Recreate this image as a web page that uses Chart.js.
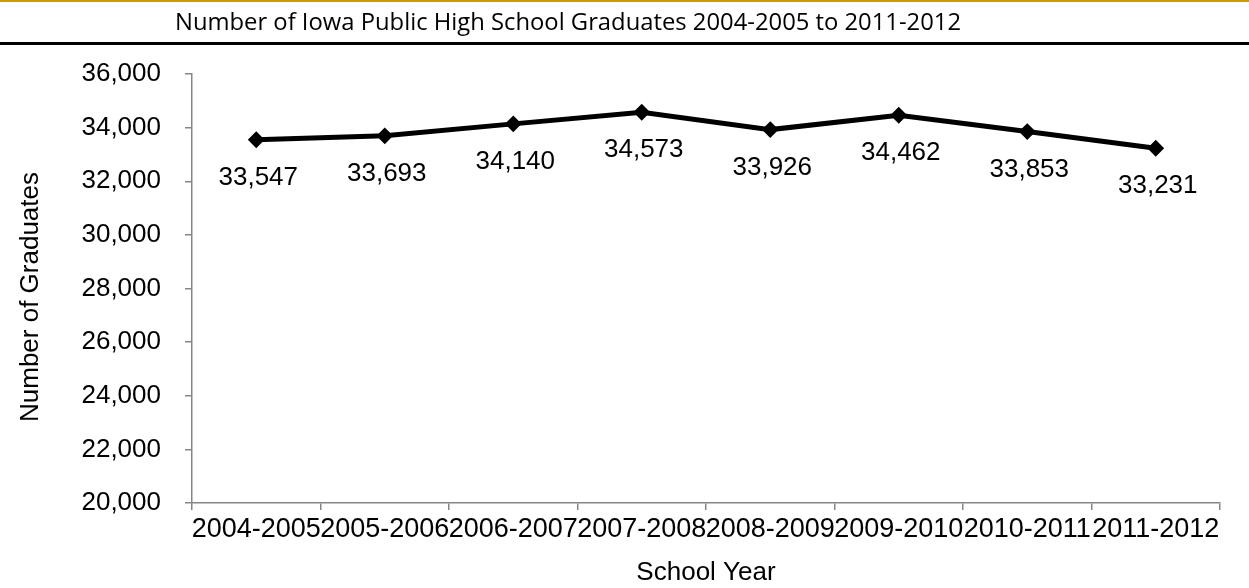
<!DOCTYPE html>
<html>
<head>
<meta charset="utf-8">
<script src="https://cdn.jsdelivr.net/npm/chart.js@4.4.1/dist/chart.umd.min.js"></script>
<style>
  html, body { margin: 0; padding: 0; background: #fff; }
  #wrap { position: relative; width: 1249px; height: 588px; overflow: hidden; }
  #gold { position: absolute; left: 0; top: 0; width: 1249px; height: 2px; background: #CC9A06; }
  #rule { position: absolute; left: 0; top: 42px; width: 1249px; height: 3px; background: #000; }
  #title { position: absolute; left: 0; top: 4.6px; width: 1136px; text-align: center;
           font-family: "Open Sans", Lato, sans-serif; font-size: 23.8px; line-height: 32.4px; color: #000; white-space: nowrap; }
  canvas { position: absolute; left: 0; top: 0; }
</style>
</head>
<body>
<div id="wrap">
  <canvas id="c" width="1249" height="588"></canvas>
  <div id="gold"></div>
  <div id="title">Number of Iowa Public High School Graduates 2004-2005 to 2011-2012</div>
  <div id="rule"></div>
</div>
<script>
const schoolYears = ["2004-2005", "2005-2006", "2006-2007", "2007-2008", "2008-2009", "2009-2010", "2010-2011", "2011-2012"];
const graduates = [33547, 33693, 34140, 34573, 33926, 34462, 33853, 33231];
const yMin = 20000;
const yMax = 36000;
const yStep = 2000;
const yAxisTitle = "Number of Graduates";
const xAxisTitle = "School Year";

const FONT = "'Liberation Sans', Arial, sans-serif";
const AXIS_GRAY = "#868686";

const valueLabels = {
  id: "valueLabels",
  afterDatasetsDraw(chart) {
    const ctx = chart.ctx;
    const meta = chart.getDatasetMeta(0);
    ctx.save();
    ctx.font = "26px " + FONT;
    ctx.fillStyle = "#000";
    ctx.textAlign = "center";
    ctx.textBaseline = "middle";
    meta.data.forEach((pt, i) => {
      ctx.fillText(graduates[i].toLocaleString("en-US"), pt.x + 2, pt.y + 38);
    });
    ctx.restore();
  }
};

const yTitle = {
  id: "yTitle",
  afterDraw(chart) {
    const ctx = chart.ctx;
    const a = chart.chartArea;
    ctx.save();
    ctx.font = "26px " + FONT;
    ctx.fillStyle = "#000";
    ctx.textAlign = "center";
    ctx.textBaseline = "middle";
    ctx.translate(31, (a.top + a.bottom) / 2 + 8.5);
    ctx.rotate(-Math.PI / 2);
    ctx.fillText(yAxisTitle, 0, 0);
    ctx.restore();
  }
};

new Chart(document.getElementById("c"), {
  type: "line",
  data: {
    labels: schoolYears,
    datasets: [{
      data: graduates,
      borderColor: "#000",
      backgroundColor: "#000",
      borderWidth: 5,
      tension: 0,
      pointStyle: "rectRot",
      pointRadius: 7,
      pointBorderWidth: 2,
      pointBackgroundColor: "#000",
      pointBorderColor: "#000",
      pointHoverRadius: 7
    }]
  },
  options: {
    responsive: false,
    animation: false,
    events: [],
    layout: { padding: { top: 74, right: 29, bottom: 0, left: 0 } },
    plugins: { legend: { display: false }, tooltip: { enabled: false }, title: { display: false } },
    scales: {
      x: {
        type: "category",
        offset: true,
        grid: { display: true, drawOnChartArea: false, offset: true, tickLength: 7, color: AXIS_GRAY, lineWidth: 1.5 },
        border: { display: true, color: AXIS_GRAY, width: 1.5 },
        ticks: { color: "#000", font: { family: FONT, size: 27 }, padding: 3, maxRotation: 0, autoSkip: false },
        title: { display: true, text: xAxisTitle, color: "#000", font: { family: FONT, size: 26 }, padding: { top: 0, bottom: 0 } },
        afterFit(scale) { scale.height = 85; }
      },
      y: {
        min: yMin,
        max: yMax,
        grid: { display: true, drawOnChartArea: false, tickLength: 7, color: AXIS_GRAY, lineWidth: 1.5 },
        border: { display: true, color: AXIS_GRAY, width: 1.5 },
        ticks: { stepSize: yStep, color: "#000", font: { family: FONT, size: 26 }, padding: 24,
                 callback: (v) => Number(v).toLocaleString("en-US") },
        title: { display: false, text: yAxisTitle },
        afterFit(scale) { scale.width = 192; }
      }
    }
  },
  plugins: [valueLabels, yTitle]
});
</script>
</body>
</html>
